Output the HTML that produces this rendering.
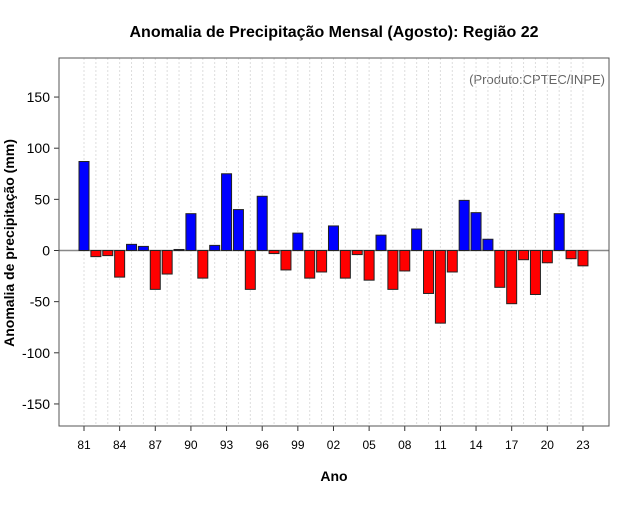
<!DOCTYPE html>
<html><head><meta charset="utf-8"><style>
body{margin:0;background:#fff;}
svg text{font-family:"Liberation Sans",sans-serif;}
</style></head><body>
<svg id="chart" width="640" height="500" viewBox="0 0 640 500">
<rect width="640" height="500" fill="#fff"/>
<text x="334" y="37" text-anchor="middle" font-size="16" font-weight="bold">Anomalia de Precipitação Mensal (Agosto): Região 22</text>
<text x="605" y="84" text-anchor="end" font-size="13" fill="#666">(Produto:CPTEC/INPE)</text>
<text x="334" y="481" text-anchor="middle" font-size="14" font-weight="bold">Ano</text>
<text transform="translate(14,243) rotate(-90)" text-anchor="middle" font-size="14" font-weight="bold">Anomalia de precipitação (mm)</text>
<g id="grid"></g><g id="bars"></g><g id="axes"></g>
<rect x="59" y="58" width="550" height="368" fill="none" stroke="#555"/>
</svg>
<script>
const years = [1981,1982,1983,1984,1985,1986,1987,1988,1989,1990,1991,1992,1993,1994,1995,1996,1997,1998,1999,2000,2001,2002,2003,2004,2005,2006,2007,2008,2009,2010,2011,2012,2013,2014,2015,2016,2017,2018,2019,2020,2021,2022,2023];
const anomalies = [87,-6,-5,-26,6,4,-38,-23,1,36,-27,5,75,40,-38,53,-3,-19,17,-27,-21,24,-27,-4,-29,15,-38,-20,21,-42,-71,-21,49,37,11,-36,-52,-9,-43,-12,36,-8,-15];
const yTicks = [-150,-100,-50,0,50,100,150];
const xTickLabels = ["81","84","87","90","93","96","99","02","05","08","11","14","17","20","23"];
const NS="http://www.w3.org/2000/svg";
const X0=59,X1=609,Y0=58,Y1=426;
function xs(yr){return 84+(yr-1981)*11.88;}
function ys(v){return 250.5-v*1.023;}
function mk(t,a,p){const e=document.createElementNS(NS,t);for(const k in a)e.setAttribute(k,a[k]);p.appendChild(e);return e;}
const grid=document.getElementById('grid'),bars=document.getElementById('bars'),axes=document.getElementById('axes');
years.forEach(function(yr){
  const g=mk('line',{x1:xs(yr),x2:xs(yr),y1:Y0,y2:Y1,stroke:'#ddd','stroke-dasharray':'2,2'},grid);
  
  
});
const zl=mk('line',{x1:X0,x2:X1,y1:ys(0),y2:ys(0),stroke:'#888','stroke-width':1.5},grid);


years.forEach(function(yr,i){
  const v=anomalies[i];const top=Math.min(ys(v),ys(0));const h=Math.abs(ys(v)-ys(0));
  const b=mk('rect',{x:xs(yr)-5,y:top,width:10,height:Math.max(h,1),fill:v>=0?'#0000ff':'#ff0000',stroke:'#222','stroke-width':1},bars);
  
  
});
yTicks.forEach(function(v){
  const y=ys(v);
  const l=mk('line',{x1:X0-5,x2:X0,y1:y,y2:y,stroke:'#333'},axes);
  
  
  const t=mk('text',{x:X0-9,y:y+5,'text-anchor':'end','font-size':14},axes);
  t.textContent=v;
  
  
});
xTickLabels.forEach(function(s,i){
  const yr=1981+i*3;const x=xs(yr);
  const l=mk('line',{x1:x,x2:x,y1:Y1,y2:Y1+5,stroke:'#333'},axes);
  
  
  const t=mk('text',{x:x,y:449,'text-anchor':'middle','font-size':12},axes);
  t.textContent=s;
  
  
});
</script>
</body></html>
